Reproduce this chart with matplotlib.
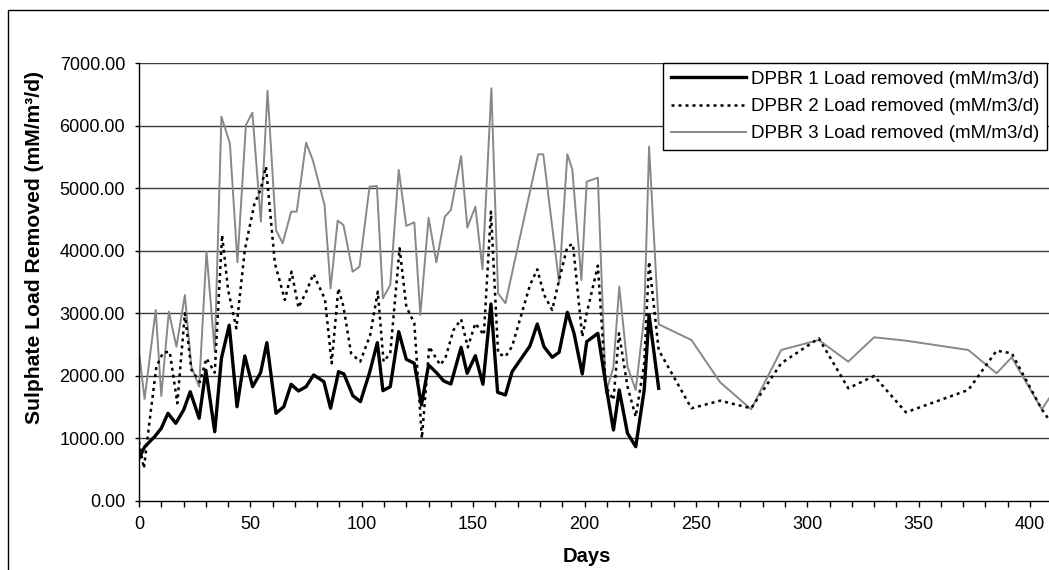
import matplotlib
matplotlib.use("Agg")
import matplotlib.pyplot as plt
from matplotlib.patches import Rectangle
from matplotlib.ticker import MultipleLocator, FormatStrFormatter

plt.rcParams["font.family"] = ["Liberation Sans", "DejaVu Sans"]

# -- data -----------------------------------------------------------------------

days1 = [0, 2.6, 7, 10, 13, 16.5, 20, 23, 27, 30, 34, 37, 40.5, 44, 47.5, 51, 54.6,
         57.4, 61.5, 65, 68.3, 71.6, 75, 78.4, 83, 86, 89.6, 92, 96, 99.4, 103.5, 107,
         109.5, 112.8, 116.6, 120, 123.6, 126.8, 130, 133.8, 136.8, 140, 144.6, 147.3,
         151, 154.4, 158, 161, 164.5, 167.5, 175.5, 178.8, 181.8, 185.5, 188.6, 192.3,
         195.3, 199, 201, 206, 209.6, 213, 215.6, 219.3, 223, 226.8, 229, 233.3]
load1 = [680, 866, 1026, 1160, 1400, 1240, 1450, 1745, 1320, 2090, 1105, 2280, 2810,
         1505, 2317, 1826, 2050, 2530, 1400, 1505, 1864, 1757, 1826, 2013, 1906, 1480,
         2066, 2029, 1682, 1586, 2050, 2530, 1762, 1826, 2706, 2264, 2200, 1533, 2173,
         2040, 1917, 1869, 2456, 2040, 2322, 1864, 3149, 1736, 1693, 2066, 2477, 2829,
         2466, 2296, 2376, 3016, 2680, 2029, 2546, 2680, 1853, 1133, 1773, 1080, 866,
         1773, 2973, 1800]

days2 = [0, 2.2, 4.8, 7.8, 10.8, 13.8, 17.2, 20.6, 23.5, 27.3, 30.3, 34, 37.3, 40, 43.7,
         47.5, 51.8, 54.6, 57, 61, 65.5, 68.5, 71.6, 75.3, 78.3, 83.5, 86.5, 89.5, 91.8,
         95.2, 99.3, 103.8, 107.2, 109.8, 112.8, 117, 120, 123.6, 127, 130.3, 135.2,
         137.5, 141.2, 144.6, 147.6, 151, 154.8, 158, 161.2, 164.5, 167.5, 175.5, 178.8,
         181.8, 185.5, 188.6, 192.3, 194.8, 199, 201, 206, 209.6, 213, 215.5, 219.3, 223,
         226.8, 229, 233.3, 248, 260.9, 274.8, 288.3, 305.2, 318.4, 330, 344.3, 372.3,
         385, 391.8, 405.3, 408.6]
load2 = [946, 520, 1293, 2146, 2370, 2386, 1560, 3000, 2100, 1900, 2280, 2050, 4253,
         3373, 2760, 4013, 4749, 4980, 5346, 3800, 3213, 3666, 3090, 3362, 3629, 3224,
         2200, 3400, 3106, 2360, 2226, 2653, 3346, 2226, 2360, 4040, 3106, 2840, 1000,
         2466, 2173, 2280, 2733, 2904, 2456, 2840, 2653, 4626, 2360, 2306, 2470, 3450,
         3704, 3300, 3053, 3533, 4066, 4109, 2626, 3000, 3762, 1826, 1613, 2680, 1826,
         1346, 2200, 3826, 2413, 1480, 1602, 1480, 2200, 2600, 1800, 1997, 1416, 1773,
         2402, 2360, 1464, 1293]

days3 = [0, 2.5, 7.5, 10, 13.4, 16.8, 20.6, 23.5, 27, 30.3, 34, 37, 40.8, 44.2, 48, 50.9,
         54.7, 57.7, 61.5, 64.5, 68.3, 70.8, 75, 78, 83.3, 86, 89.2, 91.8, 95.9, 99,
         103.5, 106.8, 109.5, 112.8, 116.6, 120, 123.6, 126.3, 130, 133.5, 137.3, 140,
         144.6, 147.4, 151, 154.2, 158.2, 161.2, 164.5, 179.2, 181.5, 188.6, 192.3,
         194.5, 198.6, 201, 206, 209.6, 213, 215.6, 219.3, 223, 226.8, 229, 233.3, 248,
         260.9, 274.8, 288.3, 305.2, 318.4, 330, 344.3, 372.3, 385, 391.8, 405.3, 408.6]
load3 = [2386, 1629, 3053, 1677, 3026, 2466, 3293, 2146, 1826, 3986, 2386, 6146, 5720,
         3816, 6013, 6210, 4466, 6562, 4333, 4120, 4626, 4626, 5730, 5453, 4733, 3400,
         4482, 4413, 3666, 3746, 5026, 5037, 3240, 3453, 5293, 4397, 4456, 2973, 4530,
         3816, 4546, 4653, 5517, 4370, 4706, 3704, 6600, 3320, 3160, 5544, 5544, 3490,
         5544, 5304, 3533, 5106, 5170, 1720, 2146, 3426, 2146, 1773, 2946, 5666, 2824,
         2573, 1896, 1464, 2413, 2573, 2226, 2616, 2562, 2413, 2040, 2296, 1464, 1640]

labels = ["DPBR 1 Load removed (mM/m3/d)",
          "DPBR 2 Load removed (mM/m3/d)",
          "DPBR 3 Load removed (mM/m3/d)"]

# -- figure -------------------------------------------------------------------

W, H = 1049, 570
fig = plt.figure(figsize=(W / 100, H / 100), dpi=100)

# chart-area border (cropped on the right and bottom in the reference)
fig.patches.append(Rectangle((7.5 / W, -0.1), 1.2, 1.1 - 10.5 / H,
                             transform=fig.transFigure, fill=False,
                             edgecolor="black", linewidth=1.0))

# plot area: x=0 at px 139, 2.2275 px/day, runs past the right edge
x0_px, px_per_day, xmax = 139, 2.2275, 420
y0_px, ytop_px = 500.8, 63.3
ax = fig.add_axes([x0_px / W, (H - y0_px) / H,
                   xmax * px_per_day / W, (y0_px - ytop_px) / H])
ax.set_xlim(0, xmax)
ax.set_ylim(0, 7000)

for y in range(1000, 7001, 1000):
    ax.axhline(y, color="#3c3c3c", linewidth=1.0, zorder=1)

ax.plot(days1, load1, color="black", linewidth=2.4, label=labels[0], zorder=4)
ax.plot(days2, load2, color="black", linewidth=1.8, linestyle=(0, (1.2, 1.6)),
        label=labels[1], zorder=3)
ax.plot(days3, load3, color="#888888", linewidth=1.4, label=labels[2], zorder=2)

ax.spines["top"].set_visible(False)
ax.spines["right"].set_visible(False)
ax.spines["left"].set_linewidth(1.0)
ax.spines["bottom"].set_linewidth(1.0)

ax.xaxis.set_major_locator(MultipleLocator(50))
ax.xaxis.set_minor_locator(MultipleLocator(10))
ax.yaxis.set_major_locator(MultipleLocator(1000))
ax.yaxis.set_major_formatter(FormatStrFormatter("%.2f"))
ax.tick_params(axis="x", which="both", direction="out", length=4, width=1,
               labelsize=13, pad=7)
ax.tick_params(axis="y", direction="out", length=3, width=1, labelsize=13, pad=7)

leg = ax.legend(loc="upper right", bbox_to_anchor=(1047 / W, 1 - 63 / H),
                bbox_transform=fig.transFigure, fontsize=13.5, frameon=True,
                fancybox=False, edgecolor="black", framealpha=1,
                handlelength=4.0, handletextpad=0.3, borderpad=0.4,
                labelspacing=0.55, borderaxespad=0)
leg.get_frame().set_linewidth(1.0)

fig.text(35 / W, 1 - 247 / H, "Sulphate Load Removed (mM/m³/d)", rotation=90,
         ha="center", va="center", fontsize=15.2, fontweight="bold")
fig.text(587 / W, 1 - 556 / H, "Days", ha="center", va="center",
         fontsize=14.5, fontweight="bold")

fig.savefig("out.png", dpi=100)
